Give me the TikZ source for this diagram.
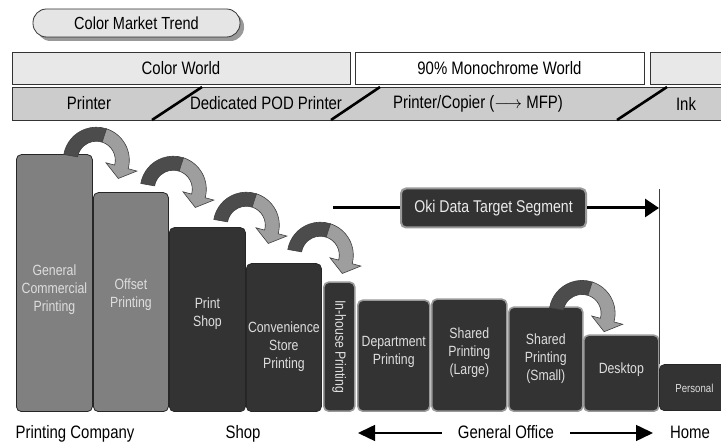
\documentclass[tikz,border=0pt]{standalone}
\usepackage{fontspec}
\setmainfont{Liberation Sans}[FakeStretch=0.83]
\usetikzlibrary{arrows.meta,shadows}
\definecolor{rowlight}{gray}{0.91}
\definecolor{rowmid}{gray}{0.8}
\definecolor{barmid}{gray}{0.5}
\definecolor{bardark}{gray}{0.2}
\definecolor{edgegray}{gray}{0.6}
\definecolor{bendfront}{gray}{0.3}
\definecolor{bendback}{gray}{0.62}
\begin{document}
\begin{tikzpicture}[x=1pt,y=1pt,
  pill/.style={draw=black!80,fill=black!10,line width=0.8pt,rounded corners=13.5pt,
    minimum width=207pt,minimum height=28pt,inner sep=0pt,font=\fontsize{17.5}{20}\selectfont,
    drop shadow={shadow xshift=4pt,shadow yshift=-4pt,fill=black!40,opacity=1}},
  rowbox/.style={draw=black!80,line width=0.8pt,minimum height=32pt,inner sep=0pt,
    font=\fontsize{18}{20}\selectfont},
  rowtext/.style={inner sep=0pt,font=\fontsize{18}{20}\selectfont},
  slash/.style={line width=2.6pt},
  barbox/.style={anchor=south west,rounded corners=5pt,inner sep=0pt,line width=0.8pt,draw=black!85},
  midbar/.style={barbox,fill=barmid},
  darkbar/.style={barbox,fill=bardark},
  edgebar/.style={darkbar,draw=edgegray,line width=1.6pt},
  bartext/.style={align=center,text=black!13,inner sep=0pt,font=\fontsize{14.8}{18}\selectfont},
  segbox/.style={fill=bardark,draw=edgegray,line width=2pt,rounded corners=5pt,text=black!8,
    minimum width=185pt,minimum height=39pt,inner sep=0pt,font=\fontsize{17}{20}\selectfont},
  segline/.style={line width=3pt},
  bottomtext/.style={anchor=base,inner sep=0pt,font=\fontsize{18}{20}\selectfont},
  officearrow/.style={line width=1.5pt,-{Triangle[length=17pt,width=16pt]}},
  bendarrow/.pic={
    \filldraw[fill=bendfront,draw=black!75,line width=0.6pt] (170:33) arc[start angle=170,end angle=72,radius=33]
      -- (72:19) arc[start angle=72,end angle=170,radius=19] -- cycle;
    \filldraw[fill=bendback,draw=black!75,line width=0.6pt] (72:33) arc[start angle=72,end angle=-15,radius=33]
      -- (-15:42) -- (22,-18.3) -- (-15:10) -- (-15:19) arc[start angle=-15,end angle=72,radius=19] -- cycle;
  }]
\useasboundingbox (0,0) rectangle (721,443);

% trend title
\node[pill] (trend) at (136.5,420) {Color Market Trend};

% world row
\node[rowbox,fill=rowlight,minimum width=338pt] (color) at (181,375) {Color World};
\node[rowbox,fill=white,minimum width=289pt] (mono) at (499.5,375) {90\% Monochrome World};
\node[rowbox,fill=rowlight,minimum width=80pt] (inkworld) at (690,375) {};

% product row
\node[rowbox,fill=rowmid,minimum width=720pt,minimum height=33pt,anchor=west] (kind) at (12,339.5) {};
\draw[slash] (152,323) -- (202,356);
\draw[slash] (331,323) -- (380,356);
\draw[slash] (617,323) -- (667,356);
\node[rowtext] (printer) at (89,339.5) {Printer};
\node[rowtext] (pod) at (266,339.5) {Dedicated POD Printer};
\node[rowtext] (copier) at (478,339.5) {Printer/Copier ($\longrightarrow$ MFP)};
\node[rowtext] (ink) at (686,339.5) {Ink};

% bars
\node[midbar,minimum width=76pt,minimum height=257pt] (gcp) at (16,31) {};
\node[midbar,minimum width=75pt,minimum height=219pt] (off) at (93,31) {};
\node[darkbar,minimum width=76pt,minimum height=184pt] (psh) at (169,31) {};
\node[darkbar,minimum width=75pt,minimum height=148pt] (cvs) at (246,31) {};
\node[edgebar,minimum width=31pt,minimum height=129pt] (inh) at (323,31) {};
\node[edgebar,minimum width=72pt,minimum height=111pt] (dep) at (357,31) {};
\node[edgebar,minimum width=75pt,minimum height=112pt] (shl) at (431,31) {};
\node[edgebar,minimum width=74pt,minimum height=104pt] (shs) at (508,31) {};
\node[edgebar,minimum width=75pt,minimum height=76pt] (dsk) at (583,31) {};
\node[darkbar,minimum width=70pt,minimum height=46pt] (per) at (659,32) {};

\node[bartext] (gcp-t) at ([yshift=-6.5pt]gcp.center) {General\\Commercial\\Printing};
\node[bartext] (off-t) at ([yshift=7pt]off.center) {Offset\\Printing};
\node[bartext] (psh-t) at ([yshift=6pt]psh.center) {Print\\Shop};
\node[bartext] (cvs-t) at ([yshift=-9pt]cvs.center) {Convenience\\Store\\Printing};
\node[bartext,rotate=-90] (inh-t) at (inh.center) {In-house Printing};
\node[bartext] (dep-t) at ([yshift=4pt]dep.center) {Department\\Printing};
\node[bartext] (shl-t) at ([yshift=3pt]shl.center) {Shared\\Printing\\(Large)};
\node[bartext] (shs-t) at ([yshift=1pt]shs.center) {Shared\\Printing\\(Small)};
\node[bartext] (dsk-t) at ([yshift=4pt]dsk.center) {Desktop};
\node[bartext,font=\fontsize{11.6}{14}\selectfont] (per-t) at ([yshift=-1pt]per.center) {Personal};

% shift arrows
\pic at ([xshift=3.5pt,yshift=-6pt]gcp.north east) {bendarrow};
\pic at ([xshift=4.5pt,yshift=3pt]off.north east) {bendarrow};
\pic at ([xshift=0.5pt,yshift=2pt]psh.north east) {bendarrow};
\pic at ([xshift=-1.5pt,yshift=8pt]cvs.north east) {bendarrow};
\pic at ([xshift=-1.5pt,yshift=-7pt]shs.north east) {bendarrow};

% target segment
\node[segbox] (oki) at (493.5,235) {Oki Data Target Segment};
\coordinate (segl) at (333,235);
\coordinate (segr) at (659,235);
\draw[segline] (segl) -- (oki);
\draw[segline,-{Triangle[length=14pt,width=18pt]}] (oki) -- (segr);
\draw[black!75,line width=1pt] (per.north west) -- ++(0,175);

% market labels
\node[bottomtext] (pc) at (75,4.5) {Printing Company};
\node[bottomtext] (shop) at (243,4.5) {Shop};
\node[bottomtext,inner xsep=16pt] (office) at (506,4.5) {General Office};
\node[bottomtext] (home) at (690,4.5) {Home};
\coordinate (offl) at (358,10);
\coordinate (offr) at (653,10);
\draw[officearrow] (office.west |- offl) -- (offl);
\draw[officearrow] (office.east |- offr) -- (offr);
\end{tikzpicture}
\end{document}
